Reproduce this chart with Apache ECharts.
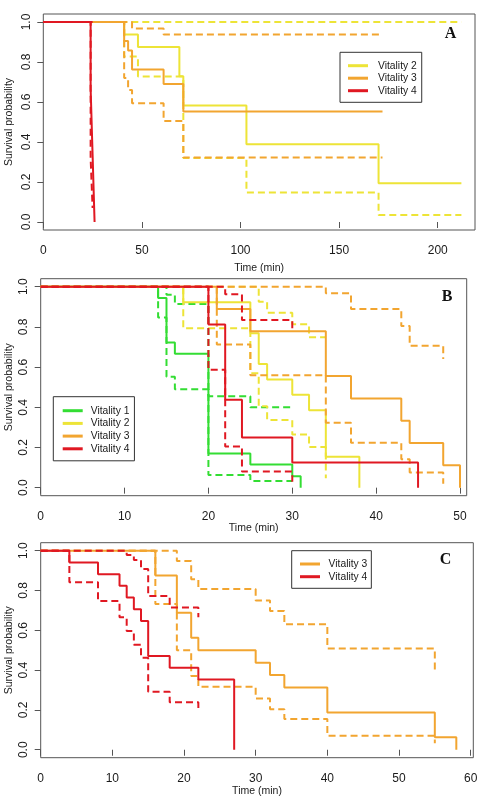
<!DOCTYPE html>
<html><head><meta charset="utf-8">
<script src="https://cdn.jsdelivr.net/npm/echarts@6/dist/echarts.min.js"></script>
<style>html,body{margin:0;padding:0;background:#fff}#c{width:478px;height:812px}</style>
</head><body><div id="c"></div>
<script>
// ---------- tick labels ----------
const aXTicks = [0, 50, 100, 150, 200];
const bXTicks = [0, 10, 20, 30, 40, 50];
const cXTicks = [0, 10, 20, 30, 40, 50, 60];
const yTicks = [0, 0.2, 0.4, 0.6, 0.8, 1.0];

// ---------- Panel A (time, survival) step points ----------
const aV2Est = [[0,1],[41,0.9375],[48,0.875],[69,0.729],[71,0.583],[103,0.389],[170,0.194],[212,0.194]];
const aV2Up  = [[0,1],[212,1]];
const aV2Lo  = [[0,1],[41,0.827],[48,0.727],[71,0.32],[103,0.148],[170,0.035],[212,0.035]];
const aV3Est = [[0,1],[41,0.905],[43,0.857],[45,0.762],[61,0.69],[71,0.552],[172,0.552]];
const aV3Up  = [[0,1],[45,0.968],[61,0.938],[172,0.938]];
const aV3Lo  = [[0,1],[41,0.72],[43,0.66],[45,0.594],[61,0.505],[71,0.322],[172,0.322]];
const aV4Est = [[0,1],[24,0.667],[25,0.333],[26,0]];
const aV4Up  = [[0,1],[25,1]];
const aV4Lo  = [[0,1],[24,0.32],[25,0.07]];

// ---------- Panel B ----------
const bV1Est = [[0,1],[14,0.944],[15,0.722],[16,0.667],[20,0.17],[25,0.115],[30,0.057],[31,0]];
const bV1Up  = [[0,1],[15,0.96],[16,0.914],[20,0.455],[25,0.40],[30,0.40]];
const bV1Lo  = [[0,1],[14,0.847],[15,0.552],[16,0.49],[20,0.063],[25,0.033],[30,0.033]];
const bV2Est = [[0,1],[17,0.923],[25,0.769],[26,0.615],[27,0.538],[30,0.462],[32,0.385],[34,0.154],[38,0]];
const bV2Up  = [[0,1],[26,0.925],[27,0.871],[30,0.813],[32,0.748],[34,0.748]];
const bV2Lo  = [[0,1],[17,0.793],[25,0.57],[26,0.405],[27,0.337],[30,0.265],[32,0.202],[34,0.047]];
const bV3Est = [[0,1],[21,0.889],[25,0.778],[34,0.556],[37,0.444],[43,0.333],[44,0.222],[48,0.111],[50,0]];
const bV3Up  = [[0,1],[34,0.967],[37,0.889],[43,0.804],[44,0.706],[48,0.64]];
const bV3Lo  = [[0,1],[21,0.713],[25,0.56],[34,0.323],[37,0.224],[43,0.141],[44,0.075],[48,0.02]];
const bV4Est = [[0,1],[20,0.8125],[22,0.4375],[24,0.25],[30,0.125],[45,0]];
const bV4Up  = [[0,1],[22,0.963],[24,0.834],[30,0.776]];
const bV4Lo  = [[0,1],[20,0.587],[22,0.205],[24,0.08],[30,0.03]];

// ---------- Panel C ----------
const cV3Est = [[0,1],[16,0.875],[19,0.6875],[21,0.5625],[22,0.5],[30,0.4375],[32,0.375],[34,0.3125],[40,0.1875],[55,0.0625],[58,0]];
const cV3Up  = [[0,1],[19,0.948],[21,0.856],[22,0.807],[30,0.75],[32,0.697],[34,0.63],[40,0.508],[55,0.392]];
const cV3Lo  = [[0,1],[16,0.732],[19,0.5],[21,0.37],[22,0.316],[30,0.258],[32,0.204],[34,0.154],[40,0.07],[55,0.032]];
const cV4Est = [[0,1],[4,0.941],[8,0.882],[11,0.824],[12,0.765],[13,0.706],[14,0.647],[15,0.471],[18,0.412],[22,0.353],[27,0]];
const cV4Up  = [[0,1],[12,0.978],[13,0.953],[14,0.908],[15,0.772],[18,0.715],[22,0.665]];
const cV4Lo  = [[0,1],[4,0.841],[8,0.747],[11,0.665],[12,0.596],[13,0.528],[14,0.462],[15,0.291],[18,0.238],[22,0.194]];

const legendA = ['Vitality 2','Vitality 3','Vitality 4'];
const legendB = ['Vitality 1','Vitality 2','Vitality 3','Vitality 4'];
const legendC = ['Vitality 3','Vitality 4'];

const COL = {'Vitality 1':'#33dd33','Vitality 2':'#ede437','Vitality 3':'#f2a530','Vitality 4':'#e01822'};
const FONT = "'Liberation Sans', Arial, sans-serif";
const TXT = '#1a1a1a';
const BORDER = '#555';

const grids = [
  {left:43.3, top:14, width:431.7, height:216},
  {left:40.7, top:278.7, width:426, height:217},
  {left:40.7, top:542.7, width:432.6, height:215}
];
grids.forEach(g => { g.show = true; g.borderColor = BORDER; g.borderWidth = 1; g.backgroundColor = 'transparent'; g.containLabel = false; g.outerBoundsMode = 'none'; });

function xAx(i, max, ticks, nameGap){
  return {gridIndex:i, type:'value', min:0, max:max,
    axisLine:{show:false},
    axisTick:{show:true, length:6, lineStyle:{color:BORDER, width:1}, customValues:ticks},
    axisLabel:{customValues:ticks, margin:14.5, fontSize:12, fontFamily:FONT, color:TXT, formatter:v=>String(v)},
    splitLine:{show:false},
    name:'Time (min)', nameLocation:'middle', nameGap:nameGap, nameMoveOverlap:false,
    nameTextStyle:{fontSize:10.5, fontFamily:FONT, color:TXT}};
}
function yAx(i, nameGap){
  return {gridIndex:i, type:'value', min:-0.04, max:1.04,
    axisLine:{show:false},
    axisTick:{show:true, length:6, lineStyle:{color:BORDER, width:1}, customValues:yTicks},
    axisLabel:{customValues:yTicks, rotate:90, margin:11, fontSize:12, fontFamily:FONT, color:TXT, formatter:v=>v.toFixed(1)},
    splitLine:{show:false},
    name:'Survival probability', nameLocation:'middle', nameRotate:90, nameGap:nameGap, nameMoveOverlap:false,
    nameTextStyle:{fontSize:10.5, fontFamily:FONT, color:TXT}};
}

const series = [];
function km(name, data, panel, dashed){
  series.push({
    name: dashed ? name + ' CI ' + dashed + ' ' + panel : name,
    type:'line', step:'end', data:data, xAxisIndex:panel, yAxisIndex:panel,
    showSymbol:false, symbol:'none', silent:true, animation:false,
    color:COL[name],
    lineStyle:{color:COL[name], width:2, type: dashed ? [7,4] : 'solid'}
  });
}
// Panel A
km('Vitality 2', aV2Est, 0); km('Vitality 2', aV2Up, 0, 'up'); km('Vitality 2', aV2Lo, 0, 'lo');
km('Vitality 3', aV3Est, 0); km('Vitality 3', aV3Up, 0, 'up'); km('Vitality 3', aV3Lo, 0, 'lo');
km('Vitality 4', aV4Up, 0, 'up'); km('Vitality 4', aV4Lo, 0, 'lo'); km('Vitality 4', aV4Est, 0);
// Panel B
km('Vitality 1', bV1Est, 1); km('Vitality 1', bV1Up, 1, 'up'); km('Vitality 1', bV1Lo, 1, 'lo');
km('Vitality 2', bV2Est, 1); km('Vitality 2', bV2Up, 1, 'up'); km('Vitality 2', bV2Lo, 1, 'lo');
km('Vitality 3', bV3Est, 1); km('Vitality 3', bV3Up, 1, 'up'); km('Vitality 3', bV3Lo, 1, 'lo');
km('Vitality 4', bV4Est, 1); km('Vitality 4', bV4Up, 1, 'up'); km('Vitality 4', bV4Lo, 1, 'lo');
// Panel C
km('Vitality 3', cV3Est, 2); km('Vitality 3', cV3Up, 2, 'up'); km('Vitality 3', cV3Lo, 2, 'lo');
km('Vitality 4', cV4Est, 2); km('Vitality 4', cV4Up, 2, 'up'); km('Vitality 4', cV4Lo, 2, 'lo');

function leg(data, left, top, padding, lh, textPad){
  return {data:data, orient:'vertical', left:left, top:top, padding:padding,
    itemGap:0, itemWidth:20, itemHeight:3, icon:'rect', selectedMode:false,
    backgroundColor:'#fff', borderColor:'#333', borderWidth:1,
    itemStyle:{borderWidth:0},
    textStyle:{fontFamily:FONT, fontSize:10.3, color:TXT, lineHeight:lh, padding:[0,0,0,textPad]}};
}

const letterFont = 'bold 16px "Liberation Serif", "DejaVu Serif", serif';
const option = {
  animation:false,
  backgroundColor:'#fff',
  grid:grids,
  xAxis:[xAx(0, 218.9, aXTicks, 33), xAx(1, 50.8, bXTicks, 27), xAx(2, 60.37, cXTicks, 28)],
  yAxis:[yAx(0, 28.5), yAx(1, 26), yAx(2, 26)],
  legend:[
    leg(legendA, 340, 52.3, [7.15, 5, 5.35, 8], 12.5, 5),
    leg(legendB, 53.3, 396.7, [7.65, 5, 5.65, 9.4], 12.7, 3),
    leg(legendC, 291.7, 550.7, [6.95, 4, 5.25, 8.3], 12.7, 3.6)
  ],
  graphic:[
    {type:'text', x:450.5, y:33.7, style:{text:'A', font:letterFont, fill:'#111', textAlign:'center', textVerticalAlign:'middle'}},
    {type:'text', x:447, y:297, style:{text:'B', font:letterFont, fill:'#111', textAlign:'center', textVerticalAlign:'middle'}},
    {type:'text', x:445.5, y:560.2, style:{text:'C', font:letterFont, fill:'#111', textAlign:'center', textVerticalAlign:'middle'}}
  ],
  series:series
};
const chart = echarts.init(document.getElementById('c'), null, {renderer:'canvas'});
chart.setOption(option);
</script></body></html>
